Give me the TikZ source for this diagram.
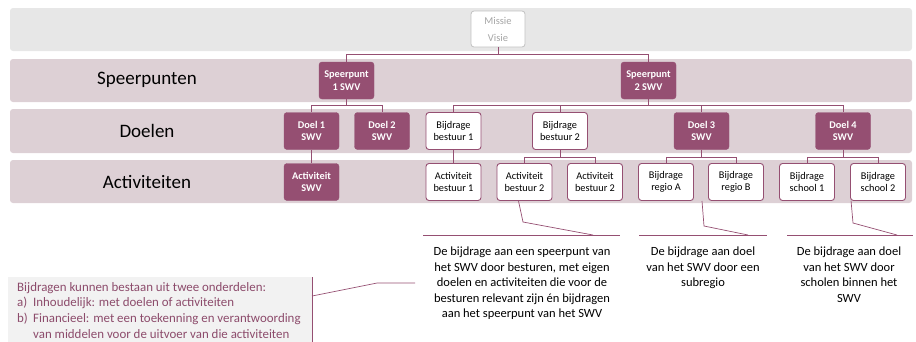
\documentclass[tikz,border=0pt]{standalone}
\usepackage{fontspec}
\setmainfont{Carlito}
\definecolor{purp}{HTML}{954F72}
\definecolor{band}{HTML}{DDD0D5}
\definecolor{bandtop}{HTML}{E7E7E7}
\definecolor{notegray}{HTML}{F2F2F2}
\definecolor{notetext}{HTML}{8C4B6B}
\definecolor{misgray}{HTML}{A6A6A6}
\begin{document}
\begin{tikzpicture}[x=1pt,y=-1pt,
 pbox/.style={draw=purp,fill=purp,text=white,rounded corners=3pt,minimum width=55pt,minimum height=37pt,inner sep=0pt,align=center,font=\bfseries\fontsize{10.3}{12.5}\selectfont},
 wbox/.style={draw=purp,fill=white,text=black,rounded corners=3pt,minimum width=55pt,minimum height=37pt,inner sep=0pt,align=center,line width=0.9pt,font=\fontsize{10.3}{12.5}\selectfont},
 link/.style={draw=purp,line width=0.8pt},
 lane/.style={rounded corners=3pt},
 rowlabel/.style={font=\fontsize{19}{22}\selectfont,text=black},
 desc/.style={anchor=north,align=center,inner sep=0pt,text=black,font=\fontsize{12.5}{15.5}\selectfont},
]
\path[use as bounding box,clip] (0,0) rectangle (916,341);
% bands
\fill[bandtop,lane] (10,8) rectangle (912,51);
\fill[band,lane] (10,59) rectangle (912,102);
\fill[band,lane] (10,109) rectangle (912,153);
\fill[band,lane] (10,160) rectangle (912,203);
% row labels
\node[rowlabel] (lsp) at (147,80) {Speerpunten};
\node[rowlabel] (ldo) at (147,131) {Doelen};
\node[rowlabel] (lac) at (147,182) {Activiteiten};
% top
\node[draw=misgray!70,fill=white,rounded corners=3pt,minimum width=54pt,minimum height=36pt,text=misgray,align=center,inner sep=0pt,line width=0.8pt,font=\fontsize{10.5}{17}\selectfont] (missie) at (498,29) {Missie\\Visie};
% speerpunten
\node[pbox] (sp1) at (346.5,80.5) {Speerpunt\\1 SWV};
\node[pbox] (sp2) at (648.5,80.5) {Speerpunt\\2 SWV};
% doelen
\node[pbox] (d1) at (311.5,131) {Doel 1\\SWV};
\node[pbox] (d2) at (382,131) {Doel 2\\SWV};
\node[wbox] (bb1) at (453.5,131) {Bijdrage\\bestuur 1};
\node[wbox] (bb2) at (560,131) {Bijdrage\\bestuur 2};
\node[pbox] (d3) at (701.5,131) {Doel 3\\SWV};
\node[pbox] (d4) at (843,131) {Doel 4\\SWV};
% activiteiten
\node[pbox] (a1) at (311.5,182) {Activiteit\\SWV};
\node[wbox] (ab1) at (453.5,182) {Activiteit\\bestuur 1};
\node[wbox] (ab2a) at (524.5,182) {Activiteit\\bestuur 2};
\node[wbox] (ab2b) at (595,182) {Activiteit\\bestuur 2};
\node[wbox] (ra) at (666,182) {Bijdrage\\regio A};
\node[wbox] (rb) at (736,182) {Bijdrage\\regio B};
\node[wbox] (s1) at (807,182) {Bijdrage\\school 1};
\node[wbox] (s2) at (878,182) {Bijdrage\\school 2};
% tree connectors
\foreach \t in {sp1,sp2} \draw[link] (missie.south) -- ++(0,7) -| (\t.north);
\foreach \t in {d1,d2} \draw[link] (sp1.south) -- ++(0,6) -| (\t.north);
\foreach \t in {bb1,bb2,d3,d4} \draw[link] (sp2.south) -- ++(0,6) -| (\t.north);
\draw[link] (d1.south) -- (a1.north);
\draw[link] (bb1.south) -- (ab1.north);
\foreach \t in {ab2a,ab2b} \draw[link] (bb2.south) -- ++(0,7.5) -| (\t.north);
\foreach \t in {ra,rb} \draw[link] (d3.south) -- ++(0,7.5) -| (\t.north);
\foreach \t in {s1,s2} \draw[link] (d4.south) -- ++(0,7.5) -| (\t.north);
% description texts
\node[desc] (t1) at (522,247) {De bijdrage aan een speerpunt van\\het SWV door besturen, met eigen\\doelen en activiteiten die voor de\\besturen relevant zijn én bijdragen\\aan het speerpunt van het SWV};
\node[desc] (t2) at (703,247) {De bijdrage aan doel\\van het SWV door een\\subregio};
\node[desc] (t3) at (849,247) {De bijdrage aan doel\\van het SWV door\\scholen binnen het\\SWV};
% underlines
\draw[link,line width=0.7pt] (423,235) -- (620,235);
\draw[link,line width=0.7pt] (639,235) -- (767,235);
\draw[link,line width=0.7pt] (787,235) -- (913,235);
% callouts
\coordinate (c2s) at (702,201);
\draw[link,line width=0.7pt] ([xshift=-6pt]ab2a.south) -- (523,222) -- (593,235);
\draw[link,line width=0.7pt] (c2s) -- (704,226) -- (748,235);
\draw[link,line width=0.7pt] ([xshift=1pt]s2.south west) -- (853,223) -- (897,235);
% note box
\fill[notegray] (8,277) rectangle (312,345);
\draw[link,line width=0.8pt] (312,277) -- (312,345);
\node[anchor=north west,align=left,inner sep=0pt,text=notetext,font=\fontsize{12.9}{15.7}\selectfont] (note) at (17,282) {Bijdragen kunnen bestaan uit twee onderdelen:\\\makebox[16pt][l]{a)}Inhoudelijk: met doelen of activiteiten\\\makebox[16pt][l]{b)}Financieel: met een toekenning en verantwoording\\\hspace*{16pt}van middelen voor de uitvoer van die activiteiten};
\draw[link,line width=0.7pt] (312,296) -- (377,283) -- (415,283);
\end{tikzpicture}
\end{document}
